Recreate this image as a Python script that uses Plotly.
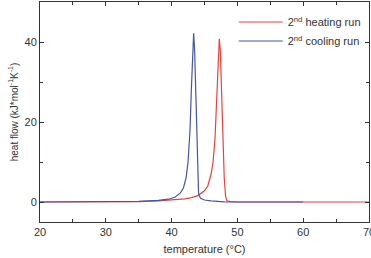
import plotly.graph_objects as go

heat_x = [20, 30, 35, 38, 40, 42, 43, 44, 45, 45.5, 46, 46.3, 46.6, 46.9, 47.1, 47.25, 47.4, 47.6, 47.8, 48.0, 48.2, 48.4, 49, 50, 70]
heat_y = [0, 0, 0.1, 0.3, 0.5, 0.8, 1.1, 1.6, 2.8, 4, 7, 10, 16, 26, 36, 40.8, 38, 28, 15, 6, 1.5, 0.3, 0.1, 0, 0]

cool_x = [20, 30, 35, 38, 39.5, 40.5, 41.3, 41.8, 42.2, 42.5, 42.8, 43.0, 43.2, 43.35, 43.5, 43.7, 43.9, 44.1, 44.4, 45, 46, 47, 48, 50, 60]
cool_y = [0, 0, 0.15, 0.4, 0.7, 1.2, 2.2, 3.5, 6, 10, 18, 28, 38, 42.2, 38, 25, 10, 2, 0.9, 0.5, 0.3, 0.15, 0.05, 0, 0]

x_ticks = [20, 30, 40, 50, 60, 70]
y_ticks = [0, 20, 40]

font = "Liberation Sans, Arial, sans-serif"

fig = go.Figure()
fig.add_trace(go.Scatter(x=heat_x, y=heat_y, mode="lines", name="2<sup>nd</sup> heating run",
                         line=dict(color="#e8433b", width=1.2)))
fig.add_trace(go.Scatter(x=cool_x, y=cool_y, mode="lines", name="2<sup>nd</sup> cooling run",
                         line=dict(color="#4556a6", width=1.2)))

axis_common = dict(showline=True, linecolor="#333333", linewidth=1, mirror="allticks",
                   ticks="inside", ticklen=4, tickcolor="#333333", showgrid=False, zeroline=False,
                   ticklabeloverflow="allow", automargin=False,
                   tickfont=dict(family=font, size=11, color="#333333"))

fig.update_xaxes(range=[20, 70], tickmode="array", tickvals=x_ticks, ticktext=[str(v) for v in x_ticks],
                 minor=dict(dtick=5, tick0=20, ticks="inside", ticklen=3, tickcolor="#333333"),
                 title=dict(text="temperature (°C)", font=dict(family=font, size=11, color="#333333"), standoff=8),
                 **axis_common)
fig.update_yaxes(range=[-5, 50], tickmode="array", tickvals=y_ticks, ticktext=[str(v) for v in y_ticks],
                 minor=dict(dtick=10, tick0=0, ticks="inside", ticklen=3, tickcolor="#333333"),
                 title=dict(text="heat flow (kJ*mol<sup>-1</sup>K<sup>-1</sup>)", font=dict(family=font, size=10, color="#333333"), standoff=4),
                 **axis_common)

fig.update_layout(width=371, height=258, margin=dict(l=40, r=2, t=2, b=36),
                  plot_bgcolor="white", paper_bgcolor="white",
                  legend=dict(x=0.99, y=0.975, xanchor="right", yanchor="top", bgcolor="rgba(0,0,0,0)",
                              font=dict(family=font, size=11, color="#333333"), tracegroupgap=0, itemwidth=44))

fig.write_html("out.html")
